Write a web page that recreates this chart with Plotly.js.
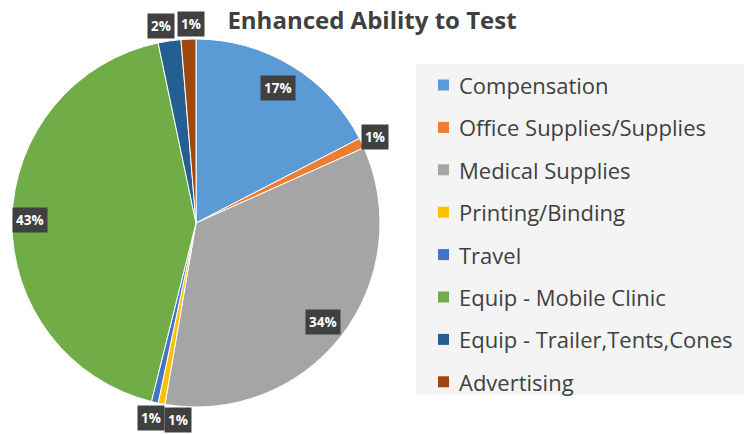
<!DOCTYPE html>
<html>
<head>
<meta charset="utf-8">
<script src="https://cdn.plot.ly/plotly-3.0.1.min.js"></script>
<style>html,body{margin:0;padding:0;background:#fff;}#chart{width:744px;height:434px;}</style>
</head>
<body>
<div id="chart"></div>
<script>
// Data
var categories = ["Compensation", "Office Supplies/Supplies", "Medical Supplies", "Printing/Binding", "Travel", "Equip - Mobile Clinic", "Equip - Trailer,Tents,Cones", "Advertising"];
var values = [17.4, 0.9, 34.4, 0.6, 0.6, 42.8, 2.0, 1.3];
var colors = ["#5B9BD5", "#ED7D31", "#A5A5A5", "#FFC000", "#4472C4", "#70AD47", "#255E91", "#9E480E"];

// Layout / style parameters
var W = 744, H = 434;
var cx = 196, cy = 223, R = 184;
var labelRadius = [0.86, 1.08, 0.875, 1.09, 1.09, 0.9, 1.08, 1.08];
var labelXShift = [0, 0, 0, 20, 0, 0, -6, 3];
var FONT = "'Open Sans', 'Noto Sans', sans-serif";

var total = values.reduce(function(a, b){ return a + b; }, 0);
var annotations = [];
var cum = 0;
values.forEach(function(v, i){
  var mid = (cum + v / 2) / total * 2 * Math.PI;
  cum += v;
  var r = R * labelRadius[i];
  var px = cx + r * Math.sin(mid) + labelXShift[i];
  var py = cy - r * Math.cos(mid);
  annotations.push({
    xref: "paper", yref: "paper",
    x: px / W, y: 1 - py / H,
    xanchor: "center", yanchor: "middle",
    text: "<b>" + Math.round(v / total * 100) + "%</b>",
    showarrow: false,
    font: {family: FONT, size: 13.5, color: "#ffffff"},
    bgcolor: "#404040",
    borderpad: 3
  });
});

// Manual legend
var shapes = [];
var legX0 = 416, legY0 = 64, legX1 = 744, legY1 = 395;
shapes.push({type: "rect", xref: "paper", yref: "paper",
  x0: legX0 / W, x1: legX1 / W, y0: 1 - legY1 / H, y1: 1 - legY0 / H,
  fillcolor: "#f4f4f4", line: {width: 0}, layer: "below"});
var rowStart = 85, rowStep = 42.4, sw = 11;
categories.forEach(function(c, i){
  var yc = rowStart + i * rowStep;
  shapes.push({type: "rect", xref: "paper", yref: "paper",
    x0: 438 / W, x1: (438 + sw) / W, y0: 1 - (yc + sw / 2) / H, y1: 1 - (yc - sw / 2) / H,
    fillcolor: colors[i], line: {width: 0}});
  annotations.push({
    xref: "paper", yref: "paper", x: 457 / W, y: 1 - yc / H,
    xanchor: "left", yanchor: "middle", showarrow: false,
    text: c,
    font: {family: FONT, size: 22, color: "#404040"}
  });
});

var trace = {
  type: "pie",
  labels: categories,
  values: values,
  sort: false,
  direction: "clockwise",
  rotation: 0,
  marker: {colors: colors, line: {color: "#ffffff", width: 1}},
  textinfo: "none",
  hoverinfo: "label+percent",
  showlegend: false,
  domain: {x: [(cx - R) / W, (cx + R) / W], y: [(H - cy - R) / H, (H - cy + R) / H]}
};

var layout = {
  width: W, height: H,
  margin: {l: 0, r: 0, t: 0, b: 0},
  paper_bgcolor: "#ffffff",
  title: {
    text: "<b>Enhanced Ability to Test</b>",
    x: 372 / W, xanchor: "center",
    y: 1 - 21 / H, yanchor: "middle",
    font: {family: FONT, size: 24, color: "#404040"}
  },
  showlegend: false,
  annotations: annotations,
  shapes: shapes
};

Plotly.newPlot("chart", [trace], layout, {displayModeBar: false, staticPlot: true});
</script>
</body>
</html>
